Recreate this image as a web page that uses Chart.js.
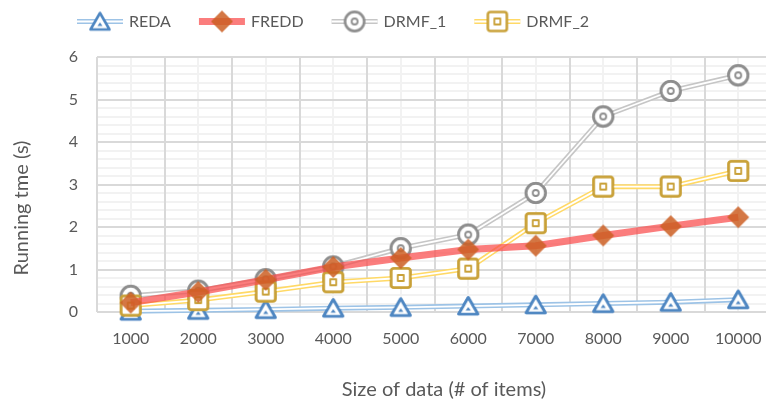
<!DOCTYPE html>
<html>
<head>
<meta charset="utf-8">
<title>Running time vs. size of data</title>
<script src="https://cdn.jsdelivr.net/npm/chart.js@4.4.1/dist/chart.umd.min.js"></script>
<style>
  html, body { margin: 0; padding: 0; overflow: hidden; background: #ffffff; }
  canvas { display: block; }
</style>
</head>
<body>
<canvas id="chart" width="790" height="405" style="width:790px;height:405px"></canvas>
<script>
// ---- data ----
const sizes = ['1000', '2000', '3000', '4000', '5000', '6000', '7000', '8000', '9000', '10000'];
const seriesNames = ['REDA', 'FREDD', 'DRMF_1', 'DRMF_2'];
const reda  = [0.02, 0.04, 0.06, 0.09, 0.11, 0.14, 0.17, 0.20, 0.23, 0.29];
const fredd = [0.22, 0.47, 0.76, 1.06, 1.27, 1.47, 1.56, 1.80, 2.02, 2.23];
const drmf1 = [0.38, 0.50, 0.77, 1.07, 1.50, 1.82, 2.80, 4.60, 5.20, 5.57];
const drmf2 = [0.15, 0.28, 0.48, 0.70, 0.80, 1.02, 2.09, 2.95, 2.95, 3.32];
const yMin = 0, yMax = 6, yMajorStep = 1, yMinorStep = 0.2;
const xCaption = 'Size of data (# of items)';
const yCaptionText = 'Running tme (s)';

const TEXT = '#595959';
const FONT = 'Lato, "DejaVu Sans", sans-serif';

// ---- marker glyphs, drawn once onto small canvases and used as point styles ----
function glyph(draw) {
  const c = document.createElement('canvas');
  c.width = 28; c.height = 28;
  const g = c.getContext('2d');
  g.lineJoin = 'round';
  draw(g, 14, 14);
  return c;
}
const triangleMark = glyph((g, x, y) => {
  g.strokeStyle = '#4f87c2'; g.fillStyle = '#ffffff'; g.lineWidth = 2.6;
  g.beginPath(); g.moveTo(x, y - 8.5); g.lineTo(x + 9.5, y + 8); g.lineTo(x - 9.5, y + 8); g.closePath();
  g.fill(); g.stroke();
  g.fillStyle = '#4f87c2';
  g.beginPath(); g.moveTo(x, y + 1); g.lineTo(x + 2.6, y + 4.6); g.lineTo(x - 2.6, y + 4.6); g.closePath(); g.fill();
});
const diamondMark = glyph((g, x, y) => {
  g.fillStyle = 'rgba(205,95,35,0.85)';
  g.beginPath(); g.moveTo(x, y - 11); g.lineTo(x + 11, y); g.lineTo(x, y + 11); g.lineTo(x - 11, y); g.closePath();
  g.fill();
});
const circleMark = glyph((g, x, y) => {
  g.strokeStyle = '#8e8e8e'; g.fillStyle = '#ffffff'; g.lineWidth = 2.6;
  g.beginPath(); g.arc(x, y, 9.6, 0, Math.PI * 2); g.fill(); g.stroke();
  g.lineWidth = 1.8;
  g.beginPath(); g.arc(x, y, 3, 0, Math.PI * 2); g.stroke();
});
const squareMark = glyph((g, x, y) => {
  g.strokeStyle = '#c9a138'; g.fillStyle = '#ffffff'; g.lineWidth = 2.6;
  g.beginPath(); g.roundRect(x - 9.5, y - 9.5, 19, 19, 2.5); g.fill(); g.stroke();
  g.lineWidth = 1.8;
  g.strokeRect(x - 3, y - 3, 6, 6);
});

// ---- plugins ----
// Compound ("double") strokes: a thin white core is run down the middle of the line,
// then the markers are painted again on top of it.
const doubleStroke = {
  id: 'doubleStroke',
  afterDatasetDraw(chart, args) {
    const ds = chart.data.datasets[args.index];
    if (!ds.coreWidth) return;
    const pts = args.meta.data;
    const ctx = chart.ctx;
    ctx.save();
    ctx.strokeStyle = '#ffffff';
    ctx.lineWidth = ds.coreWidth;
    ctx.lineJoin = 'round';
    ctx.beginPath();
    pts.forEach((p, i) => (i ? ctx.lineTo(p.x, p.y) : ctx.moveTo(p.x, p.y)));
    ctx.stroke();
    pts.forEach(p => p.draw(ctx, chart.chartArea));
    ctx.restore();
  }
};

// Series key across the top: line sample + marker + name.
const seriesKey = {
  id: 'seriesKey',
  afterDraw(chart) {
    const ctx = chart.ctx;
    const y = 21.5, sample = 46, gapText = 6, gapItem = 28;
    let x = 77;
    ctx.save();
    ctx.font = '16px ' + FONT;
    ctx.textBaseline = 'middle';
    chart.data.datasets.forEach(ds => {
      ctx.lineCap = 'butt';
      ctx.strokeStyle = ds.borderColor;
      ctx.lineWidth = ds.borderWidth;
      ctx.beginPath(); ctx.moveTo(x, y); ctx.lineTo(x + sample, y); ctx.stroke();
      if (ds.coreWidth) {
        ctx.strokeStyle = '#ffffff';
        ctx.lineWidth = ds.coreWidth;
        ctx.beginPath(); ctx.moveTo(x, y); ctx.lineTo(x + sample, y); ctx.stroke();
      }
      const m = ds.pointStyle;
      ctx.drawImage(m, x + sample / 2 - m.width / 2, y - m.height / 2);
      ctx.fillStyle = TEXT;
      ctx.fillText(ds.label, x + sample + gapText, y);
      x += sample + gapText + ctx.measureText(ds.label).width + gapItem;
    });
    ctx.restore();
  }
};

// Axis captions.
const axisCaptions = {
  id: 'axisCaptions',
  afterDraw(chart) {
    const ctx = chart.ctx;
    ctx.save();
    ctx.font = '20px ' + FONT;
    ctx.fillStyle = TEXT;
    ctx.textAlign = 'center';
    ctx.textBaseline = 'middle';
    ctx.fillText(xCaption, 444, 390);
    ctx.translate(22, 208);
    ctx.rotate(-Math.PI / 2);
    ctx.fillText(yCaptionText, 0, 0);
    ctx.restore();
  }
};

function lineSeries(label, data, color, width, core, marker, order) {
  return {
    label, data,
    xAxisID: 'x',
    yAxisID: 'y',
    borderColor: color,
    borderWidth: width,
    coreWidth: core,
    pointStyle: marker,
    pointRadius: 11,
    pointHoverRadius: 11,
    tension: 0,
    clip: false,
    order
  };
}

const isWhole = v => Math.abs(v - Math.round(v)) < 1e-6;

new Chart(document.getElementById('chart'), {
  type: 'line',
  data: {
    labels: sizes,
    datasets: [
      lineSeries(seriesNames[0], reda,  '#9dc3e6', 5, 1.8, triangleMark, 4),
      lineSeries(seriesNames[1], fredd, 'rgba(250,75,75,0.72)', 7, 0, diamondMark, 0),
      lineSeries(seriesNames[2], drmf1, '#c6c6c6', 5, 1.8, circleMark, 2),
      lineSeries(seriesNames[3], drmf2, '#ffd966', 5, 1.8, squareMark, 1)
    ]
  },
  options: {
    responsive: false,
    animation: false,
    events: [],
    layout: { padding: { top: 57, right: 17, bottom: 0, left: 0 } },
    plugins: { legend: { display: false }, tooltip: { enabled: false } },
    scales: {
      // light minor grid first, so the darker major lines lie on top of it
      yMinor: {
        type: 'linear',
        position: 'left',
        weight: 0,
        min: yMin, max: yMax,
        grid: {
          color: c => (c.tick && isWhole(c.tick.value) ? 'rgba(0,0,0,0)' : '#f2f2f2'),
          lineWidth: 2,
          drawTicks: false,
          z: -2
        },
        border: { display: false },
        ticks: { display: false, stepSize: yMinorStep, maxTicksLimit: 31, font: { size: 2 } },
        afterFit(s) { s.width = 0; }
      },
      xMinor: {
        type: 'category',
        position: 'bottom',
        weight: 0,
        offset: true,
        grid: { offset: false, color: '#f2f2f2', lineWidth: 2, drawTicks: false, z: -2 },
        border: { display: false },
        ticks: { display: false },
        afterFit(s) { s.height = 0; }
      },
      x: {
        type: 'category',
        position: 'bottom',
        weight: 1,
        offset: true,
        grid: { offset: true, color: '#d9d9d9', lineWidth: 2, drawTicks: false, z: -1 },
        border: { display: false },
        ticks: { color: TEXT, font: { family: FONT, size: 16 }, padding: 17, maxRotation: 0, autoSkip: false },
        afterFit(s) { s.height = 93; }
      },
      y: {
        type: 'linear',
        position: 'left',
        weight: 1,
        min: yMin, max: yMax,
        grid: { color: '#d9d9d9', lineWidth: 2, drawTicks: false, z: -1 },
        border: { display: false },
        ticks: { stepSize: yMajorStep, color: TEXT, font: { family: FONT, size: 16 }, padding: 19 },
        afterFit(s) { s.width = 97; }
      }
    }
  },
  plugins: [doubleStroke, seriesKey, axisCaptions]
});
</script>
</body>
</html>
